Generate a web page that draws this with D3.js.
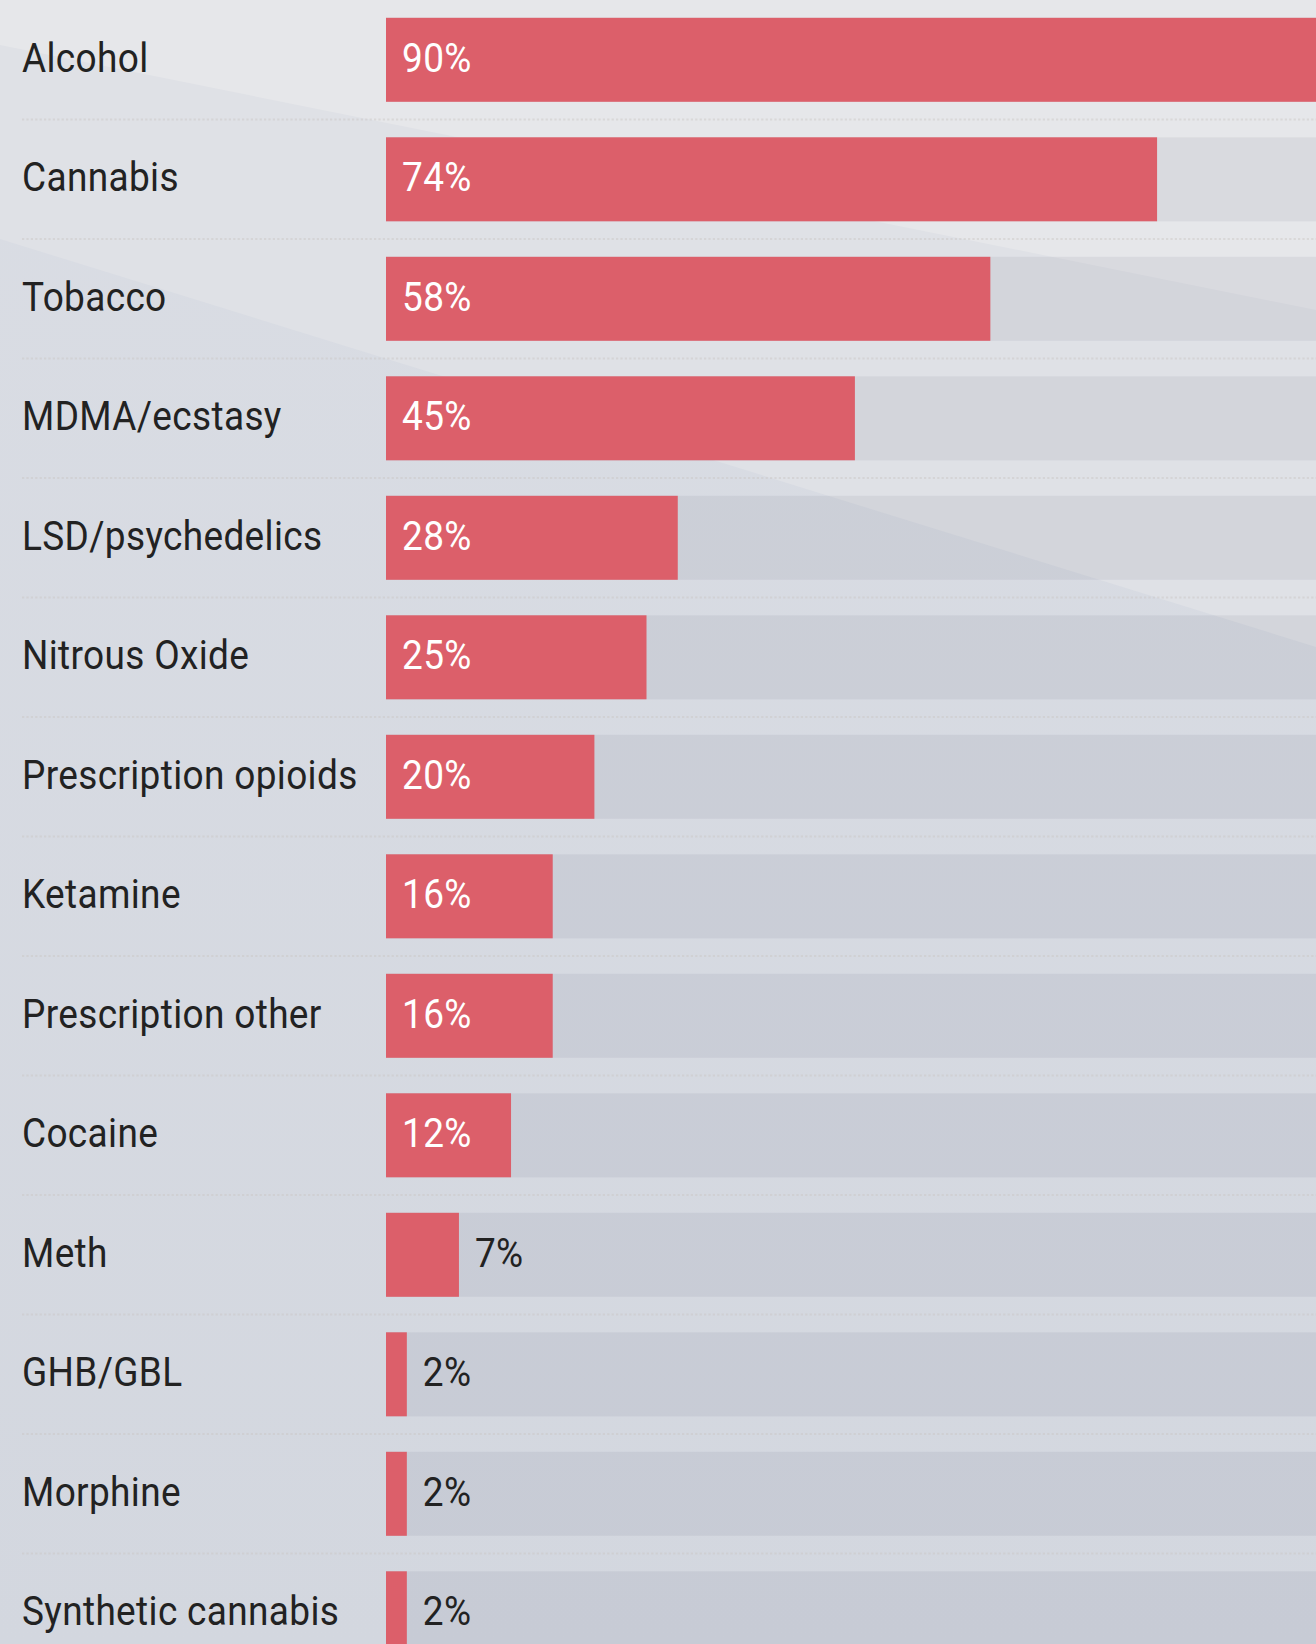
<!DOCTYPE html>
<html>
<head>
<meta charset="utf-8">
<script src="https://cdn.jsdelivr.net/npm/d3@7"></script>
<style>
  html, body { margin: 0; padding: 0; overflow: hidden; background: #d8dbe2; }
  svg { display: block; font-family: Roboto, "Noto Sans", sans-serif; }
</style>
</head>
<body>
<div id="chart"></div>
<script>
// Data (share of respondents, %)
const categories = ["Alcohol", "Cannabis", "Tobacco", "MDMA/ecstasy", "LSD/psychedelics",
  "Nitrous Oxide", "Prescription opioids", "Ketamine", "Prescription other", "Cocaine",
  "Meth", "GHB/GBL", "Morphine", "Synthetic cannabis"];
const values = [90, 74, 58, 45, 28, 25, 20, 16, 16, 12, 7, 2, 2, 2];

const width = 1316, height = 1644;
const barLeft = 386;
const step = 119.5, barH = 84, top0 = 17.8;

const svg = d3.select("#chart").append("svg")
  .attr("width", width)
  .attr("height", height);

// Background: soft grey gradient with a couple of diagonal light panels
const defs = svg.append("defs");
const grad = defs.append("linearGradient")
  .attr("id", "bg").attr("x1", 0).attr("y1", 0).attr("x2", 0).attr("y2", 1);
grad.append("stop").attr("offset", "0%").attr("stop-color", "#dadde4");
grad.append("stop").attr("offset", "100%").attr("stop-color", "#d3d7df");

svg.append("rect").attr("width", width).attr("height", height).attr("fill", "url(#bg)");
// panel between the two diagonals
svg.append("path")
  .attr("d", `M0,0 L${width},0 L${width},647 L0,239 Z`)
  .attr("fill", "#dfe1e6");
// top light panel
svg.append("path")
  .attr("d", `M0,0 L${width},0 L${width},310 L0,45 Z`)
  .attr("fill", "#e6e7ea");

const x = d3.scaleLinear().domain([0, 100]).range([barLeft, barLeft + 1042]);
const y = d3.scaleBand()
  .domain(categories)
  .range([top0, top0 + categories.length * step - (step - barH)])
  .paddingInner((step - barH) / step)
  .paddingOuter(0);

const rows = categories.map((c, i) => ({ name: c, value: values[i] }));

// Dotted separators between rows
svg.append("g").selectAll("line")
  .data(rows.slice(1))
  .join("line")
  .attr("x1", 22)
  .attr("x2", width)
  .attr("y1", d => y(d.name) - (step - barH) / 2)
  .attr("y2", d => y(d.name) - (step - barH) / 2)
  .attr("stroke", "#c9c6c4")
  .attr("stroke-opacity", 0.45)
  .attr("stroke-width", 2)
  .attr("stroke-dasharray", "2.2 2.2");

// Tracks
svg.append("g").selectAll("rect")
  .data(rows)
  .join("rect")
  .attr("x", x(0))
  .attr("y", d => y(d.name))
  .attr("width", x(100) - x(0))
  .attr("height", y.bandwidth())
  .attr("fill", "rgba(40,50,80,0.065)");

// Bars
svg.append("g").selectAll("rect")
  .data(rows)
  .join("rect")
  .attr("x", x(0))
  .attr("y", d => y(d.name))
  .attr("width", d => x(d.value) - x(0))
  .attr("height", y.bandwidth())
  .attr("fill", "#dc5f6a");

// Category labels (text in the source is slightly tall and airy)
svg.append("g").selectAll("text")
  .data(rows)
  .join("text")
  .attr("transform", d => `translate(22,${y(d.name) + y.bandwidth() / 2 + 12}) scale(1,1.08)`)
  .attr("font-size", 37)
  .attr("letter-spacing", 0.35)
  .attr("fill", "#222")
  .text(d => d.name);

// Value labels: inside (white) for long bars, outside (dark) for short ones
svg.append("g").selectAll("text")
  .data(rows)
  .join("text")
  .attr("transform", d => {
    const lx = d.value >= 10 ? x(0) + 16 : x(d.value) + 16;
    return `translate(${lx},${y(d.name) + y.bandwidth() / 2 + 12}) scale(1,1.08)`;
  })
  .attr("font-size", 37)
  .attr("letter-spacing", 0.35)
  .attr("fill", d => d.value >= 10 ? "#fff" : "#222")
  .text(d => d.value + "%");
</script>
</body>
</html>
